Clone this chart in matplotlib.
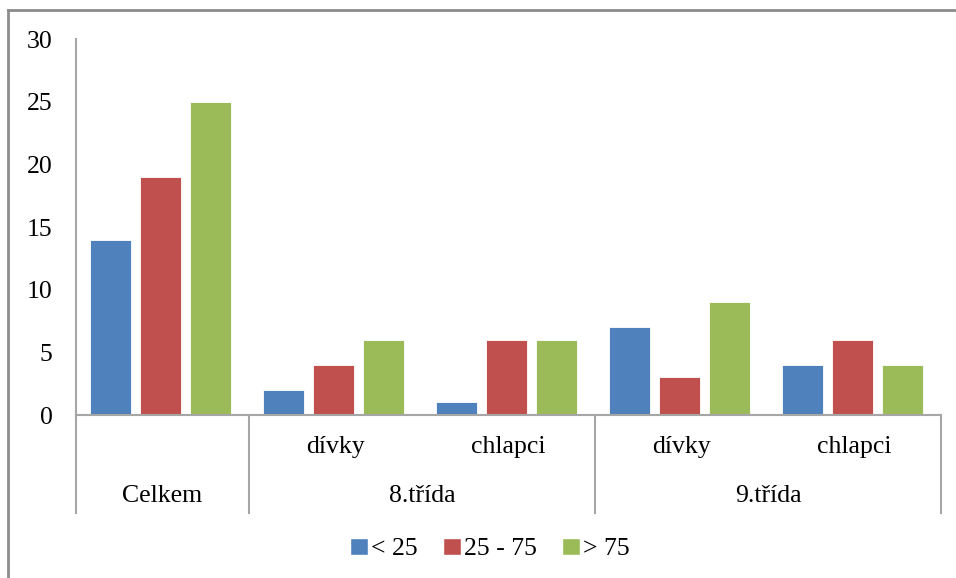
import numpy as np
import matplotlib.pyplot as plt
from matplotlib.patches import Patch
from matplotlib.lines import Line2D

plt.rcParams['font.family'] = ['Liberation Serif', 'DejaVu Serif']

# category axis: (sub label, group label) per slot
sub_labels = ['', 'dívky', 'chlapci', 'dívky', 'chlapci']
groups = ['Celkem', '8.třída', '9.třída']
group_span = [(0, 1), (1, 3), (3, 5)]

series = ['< 25', '25 - 75', '> 75']
low = [14, 2, 1, 7, 4]
mid = [19, 4, 6, 3, 6]
high = [25, 6, 6, 9, 4]
colors = ['#4F81BD', '#C0504D', '#9BBB59']

fs = 18.5

fig = plt.figure(figsize=(9.56, 5.78), dpi=100)
W, H = 956, 578
ax = fig.add_axes([76 / W, (H - 415) / H, 865 / W, 376 / H])

x = np.arange(len(sub_labels)) + 0.5
step = 0.289
width = 0.237
for k, (vals, c) in enumerate(zip([low, mid, high], colors)):
    ax.bar(x + (k - 1) * step - 0.01, vals, width, color=c, edgecolor='white', linewidth=0.6, zorder=2)

ax.set_xlim(0, 5)
ax.set_ylim(0, 30)
ax.set_yticks(range(0, 31, 5))
ax.tick_params(axis='y', length=0, pad=17, labelsize=fs)
ax.set_xticks([])
for s in ['top', 'right']:
    ax.spines[s].set_visible(False)
for s in ['left', 'bottom']:
    ax.spines[s].set_color('#A6A6A6')
    ax.spines[s].set_linewidth(1.5)

tr = ax.get_xaxis_transform()
for xi, lab in zip(x, sub_labels):
    ax.text(xi, -0.085, lab, transform=tr, ha='center', va='center', fontsize=fs)
for g, (a, b) in zip(groups, group_span):
    ax.text((a + b) / 2, -0.215, g, transform=tr, ha='center', va='center', fontsize=fs)
for xs in [0, 1, 3, 5]:
    ax.add_line(Line2D([xs, xs], [0, -0.261], transform=tr, color='#A6A6A6',
                       linewidth=1.5, clip_on=False))

handles = [Patch(facecolor=c, edgecolor='white') for c in colors]
fig.legend(handles, series, loc='center', bbox_to_anchor=(490 / W, 1 - 549 / H),
           ncol=3, frameon=False, fontsize=fs, handlelength=0.7, handleheight=0.7,
           handletextpad=0.1, columnspacing=1.0)

# outer chart border
fig.add_artist(Line2D([8 / W, 8 / W], [0, 1 - 10 / H], transform=fig.transFigure,
                      color='#8C8C8C', linewidth=2))
fig.add_artist(Line2D([8 / W, 1], [1 - 10 / H, 1 - 10 / H], transform=fig.transFigure,
                      color='#8C8C8C', linewidth=2))

fig.savefig('out.png', dpi=100)
